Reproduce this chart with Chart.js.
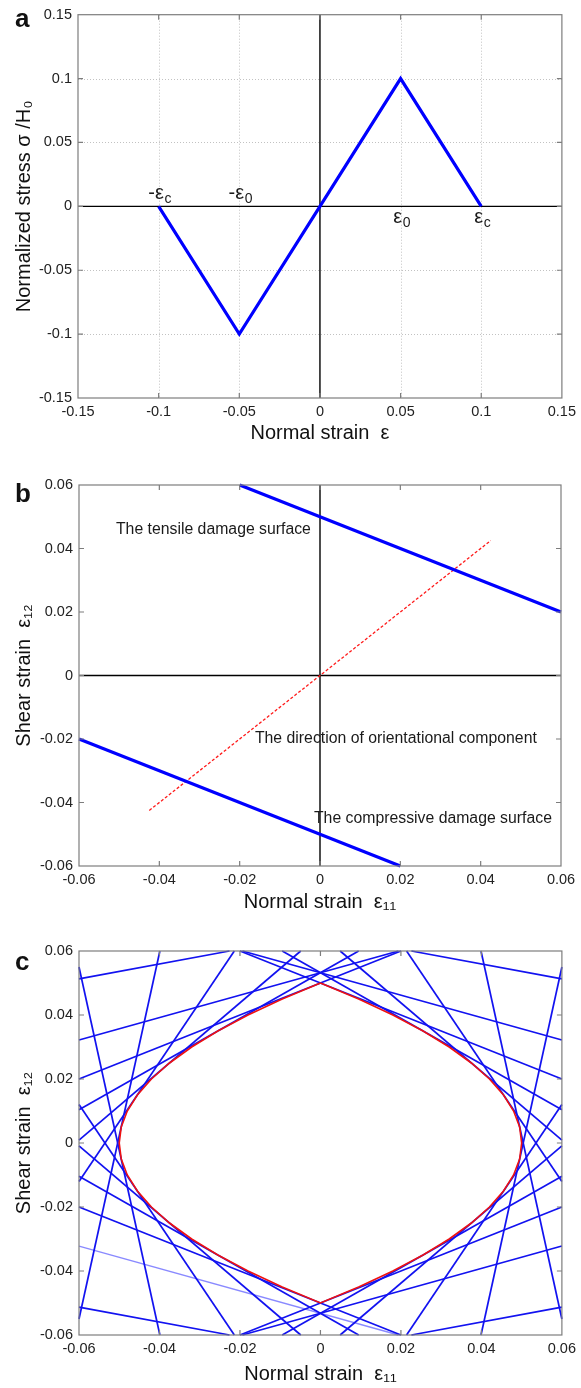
<!DOCTYPE html>
<html><head><meta charset="utf-8">
<script src="https://cdn.jsdelivr.net/npm/chart.js@4.4.0/dist/chart.umd.min.js"></script>
<style>
html,body{margin:0;padding:0;background:#fff}
body{width:581px;height:1388px;position:relative;overflow:hidden;font-family:"Liberation Sans",Arial,sans-serif}
canvas{position:absolute;left:0}
.lab{position:absolute;left:15px;font:bold 26px/26px "Liberation Sans",Arial,sans-serif;color:#111}
</style></head><body>
<canvas id="ca" width="581" height="445" style="top:0px"></canvas>
<canvas id="cb" width="581" height="445" style="top:470px"></canvas>
<canvas id="cc" width="581" height="453" style="top:935px"></canvas>
<div class="lab" style="top:5px">a</div>
<div class="lab" style="top:480px">b</div>
<div class="lab" style="top:948px">c</div>
<script>
// ---------- Panel a: stress-strain ----------
const strainA = [-0.1, -0.05, 0, 0.05, 0.1];
const stressA = [0, -0.1, 0, 0.1, 0];
const ticksA = [-0.15, -0.1, -0.05, 0, 0.05, 0.1, 0.15];
const tickLabelsA = ['-0.15', '-0.1', '-0.05', '0', '0.05', '0.1', '0.15'];
const markX = [-0.1, -0.05, 0.05, 0.1];
const markBase = ['-\u03b5', '-\u03b5', '\u03b5', '\u03b5'];
const markSub = ['c', '0', '0', 'c'];
const markSide = ['above', 'above', 'below', 'below'];

// ---------- Panel b: damage surfaces ----------
const tensileX = [-0.02, 0.06];
const tensileY = [0.06, 0.02];
const compressX = [-0.06, 0.02];
const compressY = [-0.02, -0.06];
const dirX = [-0.0425, 0.0425];
const dirY = [-0.0425, 0.0425];
const ticksBC = [-0.06, -0.04, -0.02, 0, 0.02, 0.04, 0.06];
const tickLabelsBC = ['-0.06', '-0.04', '-0.02', '0', '0.02', '0.04', '0.06'];
const noteText = ['The tensile damage surface', 'The direction of orientational component', 'The compressive damage surface'];
const noteX = [-0.0508, -0.0162, -0.0015];
const noteY = [0.0458, -0.0200, -0.0452];

// ---------- Panel c: family of damage surfaces and envelope ----------
const lineX1 = [0.0399, 0.0214, 0.0049, -0.0095, -0.02, -0.0194, 0.0226,
                0.06, 0.06, 0.06, 0.06, 0.06, 0.06, 0.06,
                -0.0399, -0.0214, -0.0049, 0.0095, 0.02, 0.0194, -0.0226,
                -0.06, -0.06, -0.06, -0.06, -0.06, -0.06, -0.06];
const lineY1 = [0.06, 0.06, 0.06, 0.06, 0.06, 0.06, 0.06,
                0.055, 0.012, -0.0009, -0.0104, -0.02, -0.0322, -0.0513,
                0.06, 0.06, 0.06, 0.06, 0.06, 0.06, 0.06,
                0.055, 0.012, -0.0009, -0.0104, -0.02, -0.0322, -0.0513];
const lineX2 = [0.06, 0.06, 0.06, 0.06, 0.06, 0.06, 0.06,
                0.0399, 0.0214, 0.0049, -0.0095, -0.02, -0.0194, 0.0226,
                -0.06, -0.06, -0.06, -0.06, -0.06, -0.06, -0.06,
                -0.0399, -0.0214, -0.0049, 0.0095, 0.02, 0.0194, -0.0226];
const lineY2 = [-0.055, -0.012, 0.0009, 0.0104, 0.02, 0.0322, 0.0513,
                -0.06, -0.06, -0.06, -0.06, -0.06, -0.06, -0.06,
                -0.055, -0.012, 0.0009, 0.0104, 0.02, 0.0322, 0.0513,
                -0.06, -0.06, -0.06, -0.06, -0.06, -0.06, -0.06];
const faintLine = 26; // index of the paler line in the lower left
const envX = [0, 0.0095, 0.018, 0.0255, 0.032, 0.0375, 0.042, 0.0455, 0.048, 0.0495, 0.05,
              0.0495, 0.048, 0.0455, 0.042, 0.0375, 0.032, 0.0255, 0.018, 0.0095, 0,
              -0.0095, -0.018, -0.0255, -0.032, -0.0375, -0.042, -0.0455, -0.048, -0.0495, -0.05,
              -0.0495, -0.048, -0.0455, -0.042, -0.0375, -0.032, -0.0255, -0.018, -0.0095, 0];
const envY = [0.05, 0.045, 0.04, 0.035, 0.03, 0.025, 0.02, 0.015, 0.01, 0.005, 0,
              -0.005, -0.01, -0.015, -0.02, -0.025, -0.03, -0.035, -0.04, -0.045, -0.05,
              -0.045, -0.04, -0.035, -0.03, -0.025, -0.02, -0.015, -0.01, -0.005, 0,
              0.005, 0.01, 0.015, 0.02, 0.025, 0.03, 0.035, 0.04, 0.045, 0.05];

const FONT = "'Liberation Sans', 'DejaVu Sans', Arial, sans-serif";
const BOX = '#7d7d7d';
const pts = (xs, ys) => xs.map((v, i) => ({x: v, y: ys[i]}));

const framePlugin = {
  id: 'frame',
  beforeDatasetsDraw(chart, args, o) {
    const {ctx, chartArea: a, scales: {x, y}} = chart;
    ctx.save();
    if (o.grid) {
      ctx.strokeStyle = '#c2c2c2'; ctx.lineWidth = 1; ctx.setLineDash([1, 2]);
      o.xTicks.slice(1, -1).forEach(v => {
        if (v === 0) return;
        const p = Math.round(x.getPixelForValue(v)) + 0.5;
        ctx.beginPath(); ctx.moveTo(p, a.top); ctx.lineTo(p, a.bottom); ctx.stroke();
      });
      o.yTicks.slice(1, -1).forEach(v => {
        if (v === 0) return;
        const p = Math.round(y.getPixelForValue(v)) + 0.5;
        ctx.beginPath(); ctx.moveTo(a.left, p); ctx.lineTo(a.right, p); ctx.stroke();
      });
    }
    if (o.zero) {
      ctx.setLineDash([]); ctx.strokeStyle = '#000'; ctx.lineWidth = 1.4;
      const px = x.getPixelForValue(0), py = y.getPixelForValue(0);
      ctx.beginPath(); ctx.moveTo(px, a.top); ctx.lineTo(px, a.bottom); ctx.stroke();
      ctx.beginPath(); ctx.moveTo(a.left, py); ctx.lineTo(a.right, py); ctx.stroke();
    }
    ctx.restore();
  },
  afterDatasetsDraw(chart, args, o) {
    const {ctx, chartArea: a, scales: {x, y}} = chart;
    ctx.save();
    ctx.setLineDash([]);
    ctx.strokeStyle = BOX; ctx.lineWidth = 1.2;
    ctx.strokeRect(a.left, a.top, a.right - a.left, a.bottom - a.top);
    const L = 5;
    o.xTicks.slice(1, -1).forEach(v => {
      const p = x.getPixelForValue(v);
      ctx.beginPath(); ctx.moveTo(p, a.bottom); ctx.lineTo(p, a.bottom - L);
      ctx.moveTo(p, a.top); ctx.lineTo(p, a.top + L); ctx.stroke();
    });
    o.yTicks.slice(1, -1).forEach(v => {
      const p = y.getPixelForValue(v);
      ctx.beginPath(); ctx.moveTo(a.left, p); ctx.lineTo(a.left + L, p);
      ctx.moveTo(a.right, p); ctx.lineTo(a.right - L, p); ctx.stroke();
    });
    ctx.fillStyle = '#1a1a1a';
    if (o.notes) {
      ctx.font = '15.8px ' + FONT; ctx.textAlign = 'left'; ctx.textBaseline = 'middle';
      o.notes.text.forEach((t, i) => {
        ctx.fillText(t, x.getPixelForValue(o.notes.x[i]), y.getPixelForValue(o.notes.y[i]));
      });
    }
    if (o.marks) {
      const y0 = y.getPixelForValue(0);
      o.marks.x.forEach((v, i) => {
        const px = x.getPixelForValue(v);
        ctx.font = '20px ' + FONT;
        const w1 = ctx.measureText(o.marks.base[i]).width;
        ctx.font = '14px ' + FONT;
        const w2 = ctx.measureText(o.marks.sub[i]).width;
        const left = px - (w1 + w2) / 2 + 1;
        const base = o.marks.side[i] === 'above' ? y0 - 7 : y0 + 17;
        ctx.textAlign = 'left'; ctx.textBaseline = 'alphabetic';
        ctx.font = '20px ' + FONT;
        ctx.fillText(o.marks.base[i], left, base);
        ctx.font = '14px ' + FONT;
        ctx.fillText(o.marks.sub[i], left + w1 + 0.5, base + 4);
      });
    }
    ctx.restore();
  }
};

function axis(ticks, labels, fixSize, isX, title, titlePad, tickPad) {
  const s = {
    type: 'linear',
    min: ticks[0], max: ticks[ticks.length - 1],
    afterBuildTicks: sc => { sc.ticks = ticks.map(v => ({value: v})); },
    afterFit: sc => { if (isX) sc.height = fixSize; else sc.width = fixSize; },
    grid: {display: false, drawTicks: false},
    border: {display: false},
    ticks: {
      callback: (v, i) => labels[i],
      font: {family: FONT, size: 14.5}, color: '#222',
      padding: tickPad, autoSkip: false, maxRotation: 0, minRotation: 0
    },
    title: {
      display: true, text: title, color: '#111',
      font: {family: FONT, size: 20},
      padding: isX ? {top: 0, bottom: titlePad} : {top: titlePad, bottom: 0}
    }
  };
  s.position = isX ? 'bottom' : 'left';
  return s;
}

function opts(p) {
  return {
    responsive: false, animation: false, events: [],
    layout: {padding: {left: 0, right: p.padR, top: p.padT, bottom: 0}, autoPadding: false},
    plugins: {legend: {display: false}, tooltip: {enabled: false}, frame: p.frame},
    scales: {
      x: axis(p.ticks, p.labels, p.xH, true, p.xTitle, p.xTitlePad, 5),
      y: axis(p.ticks, p.labels, p.yW, false, p.yTitle, 12, 6)
    }
  };
}

const lineDs = (data, color, width, extra) => Object.assign({
  data, showLine: true, borderColor: color, borderWidth: width,
  pointRadius: 0, fill: false, tension: 0, borderJoinStyle: 'miter', clip: 2
}, extra || {});

// Panel a
new Chart(document.getElementById('ca'), {
  type: 'scatter',
  data: {datasets: [lineDs(pts(strainA, stressA), '#0000ff', 3.2)]},
  options: opts({
    padR: 14, padT: 12, xH: 47, yW: 78,
    ticks: ticksA, labels: tickLabelsA,
    xTitle: 'Normal strain  \u03b5', xTitlePad: 0,
    yTitle: 'Normalized stress \u03c3 /H\u2080',
    frame: {grid: true, zero: true, xTicks: ticksA, yTicks: ticksA,
            marks: {x: markX, base: markBase, sub: markSub, side: markSide}}
  }),
  plugins: [framePlugin]
});

// Panel b
new Chart(document.getElementById('cb'), {
  type: 'scatter',
  data: {datasets: [
    lineDs(pts(tensileX, tensileY), '#0000ff', 3.2),
    lineDs(pts(compressX, compressY), '#0000ff', 3.2),
    lineDs(pts(dirX, dirY), '#ff1a1a', 1.3, {borderDash: [3, 2]})
  ]},
  options: opts({
    padR: 20, padT: 15, xH: 49, yW: 79,
    ticks: ticksBC, labels: tickLabelsBC,
    xTitle: 'Normal strain  \u03b5\u2081\u2081', xTitlePad: 1,
    yTitle: 'Shear strain  \u03b5\u2081\u2082',
    frame: {grid: false, zero: true, xTicks: ticksBC, yTicks: ticksBC,
            notes: {text: noteText, x: noteX, y: noteY}}
  }),
  plugins: [framePlugin]
});

// Panel c: envelope first so it is drawn on top of the blue lines
const dsC = [lineDs(pts(envX, envY), '#ee1111', 1.6)];
lineX1.forEach((_, i) => dsC.push(lineDs(
  pts([lineX1[i], lineX2[i]], [lineY1[i], lineY2[i]]),
  i === faintLine ? 'rgba(40,40,255,0.55)' : '#1212f0',
  i === faintLine ? 1.3 : 1.7)));
new Chart(document.getElementById('cc'), {
  type: 'scatter',
  data: {datasets: dsC},
  options: opts({
    padR: 16, padT: 16, xH: 53, yW: 79,
    ticks: ticksBC, labels: tickLabelsBC,
    xTitle: 'Normal strain  \u03b5\u2081\u2081', xTitlePad: 2,
    yTitle: 'Shear strain  \u03b5\u2081\u2082',
    frame: {grid: false, zero: false, xTicks: ticksBC, yTicks: ticksBC}
  }),
  plugins: [framePlugin]
});
</script>
</body></html>
